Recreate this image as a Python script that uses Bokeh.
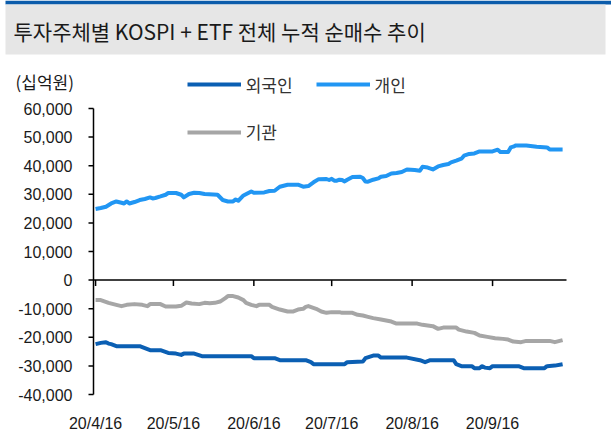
import pandas as pd
from bokeh.plotting import figure
from bokeh.models import Range1d, Legend, LegendItem, Label, BoxAnnotation
from bokeh.embed import file_html
from bokeh.resources import INLINE
from bokeh.core.properties import value

# ---------------- data ----------------
title_text = "투자주체별 KOSPI + ETF 전체 누적 순매수 추이"
unit_text = "(십억원)"
base_date = "2020-04-16"
tick_dates = ["2020-04-16", "2020-05-16", "2020-06-16", "2020-07-16", "2020-08-16", "2020-09-16"]
tick_labels = ["20/4/16", "20/5/16", "20/6/16", "20/7/16", "20/8/16", "20/9/16"]
y_ticks = [-40000, -30000, -20000, -10000, 0, 10000, 20000, 30000, 40000, 50000, 60000]
x_start_day, x_end_day = -0.8, 181.5

series_names = ["외국인", "개인", "기관"]

# days since 2020-04-16, cumulative net purchase (KRW bn)
foreign_days = [0, 2, 4, 5, 6, 8, 17, 19, 21, 25, 28, 31, 33, 34, 38, 41, 60, 61, 69, 71,
                81, 83, 84, 96, 97, 103, 104, 107, 109, 110, 120, 125, 127, 129, 138, 139,
                141, 145, 146, 148, 149, 150, 152, 153, 163, 165, 173, 174, 177, 180]
foreign_vals = [-22400, -21950, -21700, -22200, -22400, -23100, -23100, -23800, -24500, -24500,
                -25450, -25700, -26150, -25700, -25700, -26600, -26600, -27300, -27300, -28000,
                -28000, -28700, -29400, -29400, -28700, -28500, -27300, -26400, -26400, -27100,
                -27100, -28000, -28700, -28000, -28000, -29400, -30100, -30100, -30800, -30800,
                -30100, -30600, -30800, -30100, -30100, -30800, -30800, -30100, -29900, -29400]

indiv_days = [0, 2, 4, 6, 8, 10, 11, 12, 13, 15, 17, 19, 21, 22, 23, 25, 27, 28, 31, 33,
              34, 36, 38, 40, 42, 47, 49, 51, 53, 54, 55, 57, 60, 61, 65, 67, 69, 71, 74, 78,
              80, 82, 84, 86, 89, 90, 91, 92, 93, 94, 95, 96, 97, 99, 102, 103, 104, 105, 107,
              109, 110, 112, 114, 116, 118, 120, 123, 125, 126, 128, 130, 132, 134, 136, 137,
              139, 141, 142, 144, 146, 148, 153, 155, 156, 159, 160, 161, 162, 166, 170, 174,
              175, 180]
indiv_vals = [24850, 25200, 25650, 26800, 27500, 27050, 26800, 27500, 26800, 27300, 28000,
              28350, 28900, 28550, 28700, 29250, 29850, 30450, 30450, 29850, 28900, 30100,
              30550, 30450, 30100, 29850, 28000, 27500, 27500, 28200, 27750, 29600, 31000,
              30550, 30650, 31150, 31250, 32650, 33350, 33350, 32650, 32900, 34200, 35300,
              35350, 35000, 35400, 34750, 34750, 35100, 35000, 34500, 35100, 36050, 36150,
              35700, 34500, 34400, 35100, 35550, 36150, 36400, 37300, 37450, 37800, 38700,
              38500, 38250, 39600, 39350, 38700, 39750, 40250, 40600, 41150, 41750, 42450,
              43500, 44100, 44300, 45000, 45000, 45600, 44800, 44800, 46400, 46650, 47100,
              47100, 46650, 46400, 45700, 45700]

inst_days = [0, 2, 5, 8, 10, 12, 15, 18, 20, 21, 25, 27, 31, 33, 35, 37, 40, 42, 44, 46,
             48, 50, 51, 53, 55, 57, 58, 60, 62, 63, 67, 68, 71, 74, 76, 78, 80, 81, 82, 85,
             87, 89, 91, 94, 95, 99, 101, 103, 105, 107, 110, 114, 116, 124, 126, 130, 132,
             134, 139, 140, 143, 146, 148, 151, 154, 157, 159, 161, 164, 166, 175, 177, 180]
inst_vals = [-7000, -7000, -7950, -8650, -9100, -8650, -8400, -8650, -9100, -8400, -8400,
             -9250, -9250, -9000, -7850, -8200, -8400, -7950, -8100, -7950, -7500, -6300,
             -5600, -5600, -6100, -7000, -7950, -8650, -9100, -8650, -8650, -9350, -10300,
             -11000, -11000, -10300, -10050, -9350, -9100, -10050, -11000, -11450, -11200,
             -11200, -11450, -11450, -12150, -12400, -12850, -13300, -13800, -14500, -15200,
             -15200, -15650, -16100, -17050, -16600, -16600, -17300, -18000, -18450, -19400,
             -19850, -20300, -20550, -20800, -21500, -21700, -21250, -21250, -21700, -21000]

# ---------------- layout / styles ----------------
W, H = 611, 438
FL, FR, FT, FB = 93, 566, 108, 394          # plot-area edges in page pixels
C_FOREIGN = "#0b5fb3"
C_INDIV = "#2196f3"
C_INST = "#a6a6a6"
TXT = "#1a1a1a"
AX = "black"

y_lo, y_hi = y_ticks[0], y_ticks[-1]
ppd = (FR - FL) / (x_end_day - x_start_day)     # px per day
ppv = (FB - FT) / (y_hi - y_lo)                 # px per unit
xr = Range1d(x_start_day - FL / ppd, x_end_day + (W - FR) / ppd)
yr = Range1d(y_lo - (H - FB) / ppv, y_hi + FT / ppv)

base = pd.Timestamp(base_date)
tick_days = [int((pd.Timestamp(d) - base).days) for d in tick_dates]

p = figure(width=W, height=H, x_range=xr, y_range=yr,
           output_backend="svg", toolbar_location=None,
           x_axis_location=None, y_axis_location=None,
           min_border_left=0, min_border_right=0, min_border_top=0, min_border_bottom=0,
           outline_line_color=None)
p.grid.visible = False

# title band (screen units: from the bottom-left of the canvas)
p.add_layout(BoxAnnotation(left=5, right=W, bottom=H - 4, top=H, left_units="screen",
                           right_units="screen", top_units="screen", bottom_units="screen",
                           fill_color="#0b5cab", fill_alpha=1, line_color=None, level="underlay"))
p.add_layout(BoxAnnotation(left=5, right=605, bottom=H - 54, top=H - 4, left_units="screen",
                           right_units="screen", top_units="screen", bottom_units="screen",
                           fill_color="#e6e6e6", fill_alpha=1, line_color=None, level="underlay"))
p.add_layout(Label(x=13, y=H - 30, x_units="screen", y_units="screen", text=title_text,
                   text_font="Noto Sans CJK KR", text_font_size="21px",
                   text_baseline="middle", text_color=TXT))

# y axis
n_y = len(y_ticks)
p.segment(x0=[x_start_day], y0=[y_lo], x1=[x_start_day], y1=[y_hi], line_color=AX, line_width=1.5)
p.segment(x0=[x_start_day] * n_y, y0=y_ticks, x1=[x_start_day - 5 / ppd] * n_y, y1=y_ticks,
          line_color=AX, line_width=1.5)
p.text(x=[x_start_day] * n_y, y=y_ticks, text=[f"{v:,}" for v in y_ticks], x_offset=-21,
       text_align="right", text_baseline="middle", text_font=value("Liberation Sans"),
       text_font_size="16px", text_color=TXT)

# zero line as the x axis, ticks hanging below it, labels at the bottom
n_x = len(tick_days)
p.segment(x0=[x_start_day], y0=[0], x1=[x_end_day], y1=[0], line_color=AX, line_width=1.5)
p.segment(x0=tick_days, y0=[0] * n_x, x1=tick_days, y1=[-6 / ppv] * n_x,
          line_color=AX, line_width=1.5)
p.text(x=tick_days, y=[y_lo] * n_x, text=tick_labels, y_offset=20, text_align="center",
       text_baseline="top", text_font=value("Liberation Sans"), text_font_size="16px",
       text_color=TXT)

p.add_layout(Label(x=15, y=H - 81, x_units="screen", y_units="screen", text=unit_text,
                   text_font="Noto Sans CJK KR", text_font_size="17px",
                   text_baseline="middle", text_color=TXT))

# series
r_inst = p.line(inst_days, inst_vals, line_color=C_INST, line_width=4, line_join="round")
r_for = p.line(foreign_days, foreign_vals, line_color=C_FOREIGN, line_width=4, line_join="round")
r_ind = p.line(indiv_days, indiv_vals, line_color=C_INDIV, line_width=4, line_join="round")

leg_common = dict(border_line_color=None, background_fill_alpha=0, padding=0, margin=0,
                  spacing=23, glyph_width=54, glyph_height=20, label_height=20,
                  label_standoff=5, label_text_font="Noto Sans CJK KR",
                  label_text_font_size="17px", label_text_color="#333333")
leg1 = Legend(items=[LegendItem(label=series_names[0], renderers=[r_for]),
                     LegendItem(label=series_names[1], renderers=[r_ind])],
              orientation="horizontal", location=(186.7, H - 86.7 - 10), **leg_common)
leg2 = Legend(items=[LegendItem(label=series_names[2], renderers=[r_inst])],
              orientation="horizontal", location=(186.7, H - 134 - 10), **leg_common)
p.add_layout(leg1)
p.add_layout(leg2)

open("out.html", "w").write(file_html(p, INLINE))
